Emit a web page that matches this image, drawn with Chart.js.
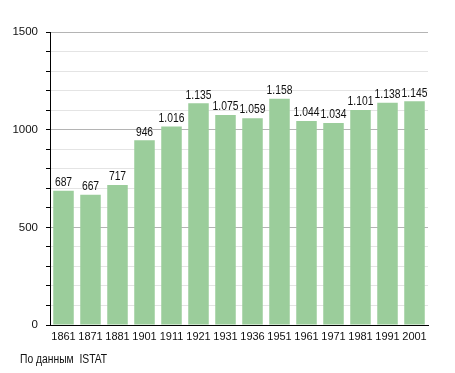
<!DOCTYPE html>
<html>
<head>
<meta charset="utf-8">
<script src="https://cdn.jsdelivr.net/npm/chart.js@4"></script>
<style>
  html, body { margin: 0; padding: 0; background: #fff; }
  #wrap { width: 455px; height: 373px; }
</style>
</head>
<body>
<div id="wrap"><canvas id="myChart" width="455" height="373"></canvas></div>
<script>
// Census years and population
const years = ['1861', '1871', '1881', '1901', '1911', '1921', '1931', '1936', '1951', '1961', '1971', '1981', '1991', '2001'];
const population = [687, 667, 717, 946, 1016, 1135, 1075, 1059, 1158, 1044, 1034, 1101, 1138, 1145];
const yLabels = [0, 500, 1000, 1500];
const sourceNote = 'По данным  ISTAT';

const FONT = '"Liberation Sans", Arial, sans-serif';

// thousands with a dot, like 1.135
function fmt(v) {
  const s = String(v);
  return s.length > 3 ? s.slice(0, s.length - 3) + '.' + s.slice(-3) : s;
}

// narrow-ish text, squeezed a bit horizontally
function squeezeText(ctx, text, x, y, sx) {
  ctx.save();
  ctx.translate(x, y);
  ctx.scale(sx, 1);
  ctx.fillText(text, 0, 0);
  ctx.restore();
}

// value labels over the bars + source note
const labelsPlugin = {
  id: 'valueLabels',
  afterDatasetsDraw(chart) {
    const ctx = chart.ctx;
    const meta = chart.getDatasetMeta(0);
    ctx.save();
    ctx.font = '12px ' + FONT;
    ctx.fillStyle = '#111';
    ctx.textAlign = 'center';
    ctx.textBaseline = 'bottom';
    meta.data.forEach((bar, i) => {
      squeezeText(ctx, fmt(population[i]), bar.x, bar.y - 2, 0.86);
    });
    ctx.textAlign = 'left';
    ctx.textBaseline = 'middle';
    squeezeText(ctx, sourceNote, 20, 360, 0.86);
    ctx.restore();
  }
};

const config = {
  type: 'bar',
  data: {
    labels: years,
    datasets: [{
      data: population,
      backgroundColor: '#9bcd9b',
      barPercentage: 0.76,
      categoryPercentage: 1
    }]
  },
  options: {
    responsive: false,
    animation: false,
    layout: { padding: { top: 32, right: 27, left: 0, bottom: 0 } },
    plugins: {
      legend: { display: false },
      tooltip: { enabled: false }
    },
    scales: {
      x: {
        grid: { display: false, tickLength: 0 },
        border: { color: '#000', width: 1 },
        ticks: { color: '#111', font: { family: FONT, size: 11 }, padding: 5, maxRotation: 0, autoSkip: false },
        afterFit(scale) { scale.height = 48; }
      },
      y: {
        min: 0,
        max: 1500,
        border: { color: '#000', width: 1 },
        grid: {
          color: c => (c.tick && c.tick.value % 500 === 0) ? '#b4b4b4' : '#e4e4e4',
          tickColor: '#000',
          tickLength: 4
        },
        ticks: {
          stepSize: 100,
          color: '#111',
          font: { family: FONT, size: 11.5 },
          padding: 8,
          callback: v => yLabels.includes(v) ? String(v) : ''
        },
        afterFit(scale) { scale.width = 50; }
      }
    }
  },
  plugins: [labelsPlugin]
};

new Chart(document.getElementById('myChart'), config);
</script>
</body>
</html>
